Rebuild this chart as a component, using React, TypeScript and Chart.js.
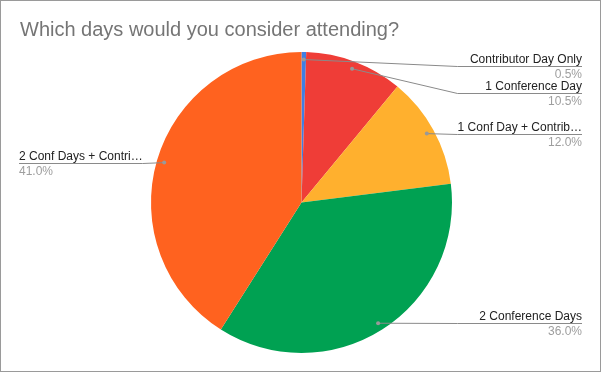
import React, { useEffect, useRef } from "react";
import { Chart, registerables } from "chart.js";

Chart.register(...registerables);

const TITLE = "Which days would you consider attending?";
const categories = [
  "Contributor Day Only",
  "1 Conference Day",
  "1 Conf Day + Contrib…",
  "2 Conference Days",
  "2 Conf Days + Contri…",
];
const values = [0.5, 10.5, 12.0, 36.0, 41.0];
const percentLabels = ["0.5%", "10.5%", "12.0%", "36.0%", "41.0%"];
const colors = ["#3F7FE3", "#EF3D37", "#FFB02E", "#00A152", "#FF621F"];

const FONT = "Arial, 'Liberation Sans', Helvetica, sans-serif";

const labelPlugin = {
  id: "sheetLabels",
  afterDraw(chart: any) {
    const ctx = chart.ctx as CanvasRenderingContext2D;
    const W = chart.width;
    const H = chart.height;
    ctx.save();
    // frame
    ctx.strokeStyle = "#9a9a9a";
    ctx.lineWidth = 1;
    ctx.strokeRect(0.5, 0.5, W - 2, H - 2);
    // title
    ctx.fillStyle = "#757575";
    ctx.font = `20px ${FONT}`;
    ctx.textAlign = "left";
    ctx.textBaseline = "alphabetic";
    ctx.fillText(TITLE, 20, 36);

    const meta = chart.getDatasetMeta(0);
    ctx.font = `12px ${FONT}`;
    const items = meta.data.map((arc: any, i: number) => {
      const p = arc.getProps(["startAngle", "endAngle", "x", "y", "outerRadius"], true);
      const mid = (p.startAngle + p.endAngle) / 2;
      const r = p.outerRadius * 0.95;
      return {
        i,
        dx: p.x + Math.cos(mid) * r,
        dy: p.y + Math.sin(mid) * r,
        right: Math.cos(mid) >= 0,
        w: ctx.measureText(categories[i]).width,
      };
    });
    const rightX = W - 20;
    const leftX = 19;
    const rights = items.filter((d: any) => d.right).sort((a: any, b: any) => a.dy - b.dy);
    const lefts = items.filter((d: any) => !d.right).sort((a: any, b: any) => a.dy - b.dy);
    const place = (arr: any[]) => {
      let prev = -Infinity;
      arr.forEach((d) => {
        d.ly = Math.max(d.dy, prev + 27, 65.5);
        prev = d.ly;
      });
    };
    place(rights);
    place(lefts);
    const maxR = Math.max(0, ...rights.map((d: any) => d.w));
    const maxL = Math.max(0, ...lefts.map((d: any) => d.w));

    const draw = (d: any, isRight: boolean) => {
      const ly = Math.round(d.ly) + 0.5;
      ctx.strokeStyle = "#8a8a8a";
      ctx.lineWidth = 1;
      ctx.beginPath();
      ctx.moveTo(d.dx, d.dy);
      if (isRight) {
        const ex = Math.max(d.dx, rightX - maxR);
        ctx.lineTo(ex, ly);
        ctx.lineTo(rightX, ly);
      } else {
        const ex = Math.min(d.dx, leftX + maxL);
        ctx.lineTo(ex, ly);
        ctx.lineTo(leftX, ly);
      }
      ctx.stroke();
      ctx.fillStyle = "#999999";
      ctx.beginPath();
      ctx.arc(d.dx, d.dy, 2, 0, Math.PI * 2);
      ctx.fill();
      ctx.textAlign = isRight ? "right" : "left";
      const tx = isRight ? rightX : leftX;
      ctx.font = `12px ${FONT}`;
      ctx.fillStyle = "#222222";
      ctx.fillText(categories[d.i], tx, ly - 4);
      ctx.fillStyle = "#9e9e9e";
      ctx.fillText(percentLabels[d.i], tx, ly + 11);
    };
    rights.forEach((d: any) => draw(d, true));
    lefts.forEach((d: any) => draw(d, false));
    ctx.restore();
  },
};

export default function App() {
  const ref = useRef<HTMLCanvasElement | null>(null);
  useEffect(() => {
    if (!ref.current) return;
    const chart = new Chart(ref.current, {
      type: "pie",
      data: {
        labels: categories,
        datasets: [
          {
            data: values,
            backgroundColor: colors,
            borderWidth: 0,
          },
        ],
      },
      options: {
        responsive: false,
        animation: false,
        devicePixelRatio: 1,
        layout: { padding: { top: 52, bottom: 20, left: 151, right: 150 } },
        plugins: {
          legend: { display: false },
          tooltip: { enabled: false },
          title: { display: false },
        },
      },
      plugins: [labelPlugin],
    });
    return () => chart.destroy();
  }, []);
  return (
    <div style={{ position: "fixed", left: 0, top: 0, width: 602, height: 373, background: "#fff" }}>
      <canvas ref={ref} width={602} height={373} style={{ display: "block" }} />
    </div>
  );
}
